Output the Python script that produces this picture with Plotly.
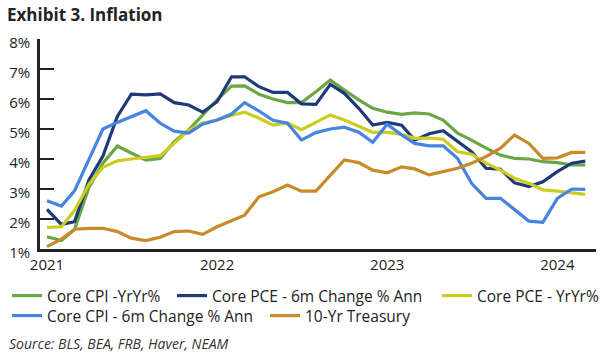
import pandas as pd
import plotly.graph_objects as go

months = pd.date_range("2021-01-01", periods=39, freq="MS")

core_cpi_yoy = [1.41, 1.28, 1.65, 3.05, 3.86, 4.43, 4.20, 3.96, 4.02, 4.58,
                4.97, 5.47, 5.97, 6.43, 6.44, 6.16, 6.00, 5.88, 5.88, 6.24,
                6.63, 6.30, 5.97, 5.69, 5.56, 5.49, 5.54, 5.50, 5.30, 4.86,
                4.63, 4.36, 4.13, 4.02, 4.00, 3.91, 3.88, 3.80, 3.80]
core_pce_6m = [2.32, 1.82, 1.91, 3.30, 4.10, 5.42, 6.16, 6.14, 6.17, 5.88,
               5.80, 5.56, 5.91, 6.74, 6.74, 6.41, 6.22, 6.22, 5.84, 5.82,
               6.49, 6.19, 5.69, 5.13, 5.22, 5.13, 4.63, 4.84, 4.94, 4.60,
               4.24, 3.69, 3.66, 3.21, 3.08, 3.24, 3.58, 3.86, 3.93]
core_pce_yoy = [1.72, 1.74, 2.28, 3.16, 3.72, 3.94, 4.00, 4.06, 4.11, 4.52,
                4.95, 5.20, 5.30, 5.45, 5.56, 5.36, 5.13, 5.20, 4.98, 5.22,
                5.47, 5.30, 5.08, 4.89, 4.89, 4.82, 4.69, 4.70, 4.66, 4.24,
                4.16, 3.86, 3.63, 3.36, 3.19, 2.97, 2.93, 2.86, 2.82]
core_cpi_6m = [2.61, 2.43, 2.94, 4.00, 5.00, 5.22, 5.41, 5.61, 5.19, 4.93,
               4.86, 5.16, 5.30, 5.50, 5.88, 5.60, 5.29, 5.19, 4.63, 4.88,
               5.00, 5.06, 4.89, 4.56, 5.16, 4.80, 4.52, 4.44, 4.44, 4.02,
               3.19, 2.69, 2.69, 2.30, 1.93, 1.89, 2.69, 3.00, 2.99]
treasury_10y = [1.08, 1.33, 1.66, 1.69, 1.69, 1.58, 1.36, 1.28, 1.39, 1.58,
                1.60, 1.49, 1.74, 1.93, 2.13, 2.74, 2.91, 3.13, 2.93, 2.93,
                3.47, 3.97, 3.88, 3.63, 3.54, 3.74, 3.67, 3.47, 3.58, 3.69,
                3.86, 4.08, 4.36, 4.80, 4.52, 4.02, 4.04, 4.22, 4.22]

# (name, values, colour, legend id)
series = [
    ("Core CPI -YrYr%", core_cpi_yoy, "#6aa646", "legend"),
    ("Core PCE - 6m Change % Ann", core_pce_6m, "#1e3a78", "legend2"),
    ("Core PCE - YrYr%", core_pce_yoy, "#cccc22", "legend3"),
    ("Core CPI - 6m Change % Ann", core_cpi_6m, "#4584e0", "legend4"),
    ("10-Yr Treasury", treasury_10y, "#c98a2a", "legend5"),
]

year_ticks = ["2021-01-01", "2022-01-01", "2023-01-01", "2024-01-01"]
year_labels = ["2021", "2022", "2023", "2024"]
y_ticks = [1, 2, 3, 4, 5, 6, 7, 8]
y_labels = ["1%", "2%", "3%", "4%", "5%", "6%", "7%", "8%"]

FONT = "Open Sans"
INK = "#222222"
W, H = 603, 354

fig = go.Figure()
for name, vals, col, lg in series:
    fig.add_trace(go.Scatter(x=months, y=vals, name=name, mode="lines",
                             line=dict(color=col, width=3.2), legend=lg))


def legend_at(px, py, size=15.5):
    return dict(orientation="v", xref="container", yref="container",
                x=px / W, y=1 - py / H, xanchor="left", yanchor="top",
                font=dict(family=FONT, size=size, color=INK),
                itemwidth=30, tracegroupgap=0, bgcolor="rgba(0,0,0,0)",
                borderwidth=0)


fig.update_layout(
    width=W, height=H,
    margin=dict(l=40, r=7, t=39, b=105, autoexpand=False),
    paper_bgcolor="white", plot_bgcolor="white",
    font=dict(family=FONT, color=INK, size=14),
    title=dict(text="<b>Exhibit 3. Inflation</b>", xref="container", yref="container",
               x=7 / W, y=1 - 15 / H, xanchor="left", yanchor="middle",
               font=dict(family=FONT, size=17, color=INK)),
    showlegend=True,
    legend=legend_at(7, 279),
    legend2=legend_at(172, 279),
    legend3=legend_at(437, 279),
    legend4=legend_at(7, 299),
    legend5=legend_at(265, 299),
    xaxis=dict(range=["2020-12-17", "2024-03-24"], type="date",
               tickvals=year_ticks, ticktext=year_labels,
               showline=True, linecolor=INK, linewidth=2.5,
               ticks="", showgrid=False, zeroline=False,
               tickfont=dict(family=FONT, size=15, color=INK)),
    yaxis=dict(range=[1, 8], tickvals=y_ticks, ticktext=y_labels,
               showline=True, linecolor=INK, linewidth=2.5,
               ticks="inside", ticklen=14, tickwidth=2, tickcolor=INK,
               showgrid=False, zeroline=False, ticklabelshift=4,
               ticklabelstandoff=4,
               tickfont=dict(family=FONT, size=15, color=INK)),
)

fig.add_annotation(text="<i>Source: BLS, BEA, FRB, Haver, NEAM</i>",
                   xref="paper", yref="paper", x=(7 - 40) / 556, y=(249 - 343) / 210,
                   xanchor="left", yanchor="middle", showarrow=False,
                   font=dict(family=FONT, size=14, color="#333333"))

fig.write_html("out.html")
